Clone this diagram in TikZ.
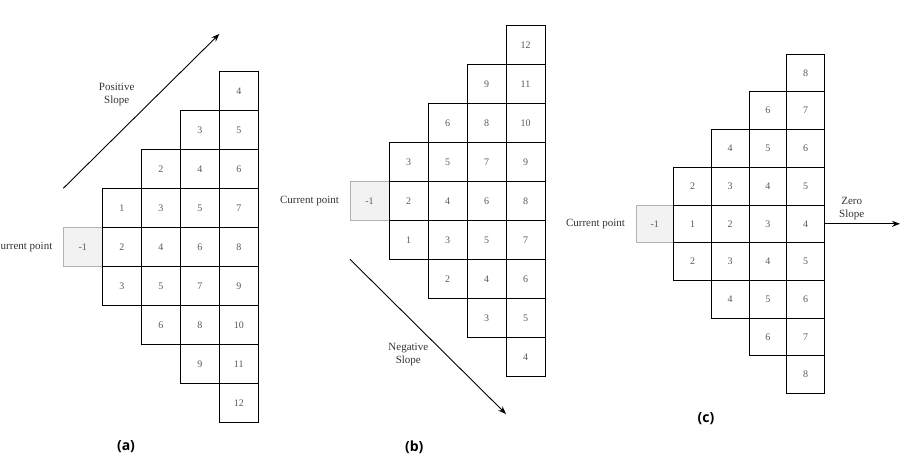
\documentclass[tikz,border=0pt]{standalone}
\usepackage{fontspec}
\setmainfont{Liberation Serif}
\newfontfamily\capfont{Open Sans}
\usetikzlibrary{positioning,arrows.meta}

\begin{document}
\begin{tikzpicture}[x=1pt, y=-1pt,
          cell/.style={draw=black, line width=0.9pt, minimum size=39pt, inner sep=0pt,
                       text=black!65, font=\fontsize{10}{12}\selectfont},
          smallcell/.style={cell, minimum size=37.7pt},
          startcell/.style={draw=black!30, fill=black!5},
          lbl/.style={text=black!80, font=\fontsize{11}{13}\selectfont, align=center},
          subcap/.style={font=\capfont\bfseries\fontsize{14}{16}\selectfont},
          slope/.style={line width=0.9pt, -{Stealth[length=8pt,width=6pt]}},
        ]
        \useasboundingbox (0,0) rectangle (901,468);
        % (a) positive slope
        \node[cell, startcell] (a0) at (82.8,247.2) {-1};
        \foreach \k in {1,...,4}{
          \foreach \d in {-\k,...,\k}{
            \pgfmathtruncatemacro{\v}{2*\k+\d}
            \pgfmathtruncatemacro{\r}{\d+4}
            \node[cell] (a\k r\r) at ({82.8+39*\k},{247.2+39*\d}) {\v};
          }
        }
        \node[lbl, left=7pt of a0] (acur) {Current point};
        \coordinate (apos-s) at (63.3,188.3);
        \coordinate (apos-e) at (219.3,34);
        \draw[slope] (apos-s) -- (apos-e);
        \node[lbl] (apos) at (116.7,95) {Positive\\Slope};
        \node[subcap] (acap) at (126,447) {(a)};
        % (b) negative slope
        \node[cell, startcell] (b0) at (369.5,201.2) {-1};
        \foreach \k in {1,...,4}{
          \foreach \d in {-\k,...,\k}{
            \pgfmathtruncatemacro{\v}{2*\k-\d}
            \pgfmathtruncatemacro{\r}{\d+4}
            \node[cell] (b\k r\r) at ({369.5+39*\k},{201.2+39*\d}) {\v};
          }
        }
        \node[lbl, left=7pt of b0] (bcur) {Current point};
        \coordinate (bneg-s) at (350,259.3);
        \coordinate (bneg-e) at (506,414);
        \draw[slope] (bneg-s) -- (bneg-e);
        \node[lbl] (bneg) at (408.3,355) {Negative\\Slope};
        \node[subcap] (bcap) at (414.3,447) {(b)};
        % (c) zero slope
        \node[smallcell, startcell] (c0) at (654.8,223.8) {-1};
        \foreach \k in {1,...,4}{
          \foreach \d in {-\k,...,\k}{
            \pgfmathtruncatemacro{\v}{\k+abs(\d)}
            \pgfmathtruncatemacro{\r}{\d+4}
            \node[smallcell] (c\k r\r) at ({654.8+37.7*\k},{223.8+37.7*\d}) {\v};
          }
        }
        \node[lbl, left=7pt of c0] (ccur) {Current point};
        \coordinate (czero-e) at (900,223.8);
        \draw[slope] (c4r4.east) -- (czero-e);
        \node[lbl] (czero) at (851.7,208.3) {Zero\\Slope};
        \node[subcap] (ccap) at (706,418.3) {(c)};
      \end{tikzpicture}
\end{document}
